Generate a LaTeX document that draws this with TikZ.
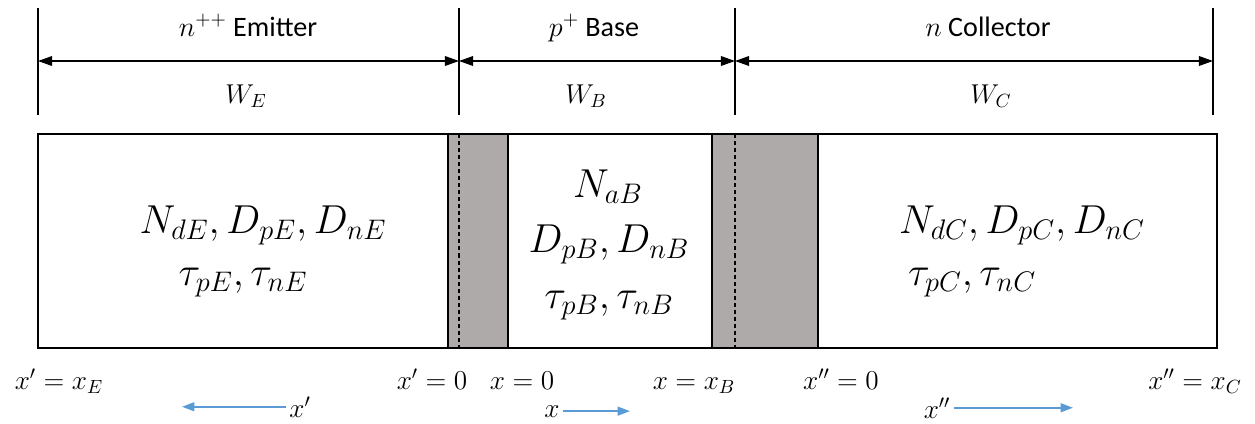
\documentclass[tikz,border=0pt]{standalone}
\usepackage{fix-cm}
\usepackage{fontspec}
\setmainfont{Carlito}
\usetikzlibrary{arrows.meta}
\definecolor{deplgray}{RGB}{174,170,170}
\definecolor{axisblue}{RGB}{91,155,213}

\begin{document}
\begin{tikzpicture}[x=0.02cm,y=-0.02cm,
  border/.style={line width=0.8pt},
  dimline/.style={line width=0.8pt, {Triangle[length=8pt,width=5.5pt]}-{Triangle[length=8pt,width=5.5pt]}},
  regionlabel/.style={font=\fontsize{16}{19}\selectfont, inner sep=0pt, anchor=base},
  widthlabel/.style={font=\fontsize{15.5}{19}\selectfont, inner sep=0pt, anchor=base},
  param/.style={font=\fontsize{23}{28}\selectfont, inner sep=0pt, anchor=base},
  poslabel/.style={font=\fontsize{15.5}{19}\selectfont, inner sep=0pt, anchor=base},
  axislabel/.style={font=\fontsize{15.5}{19}\selectfont, inner sep=2pt, anchor=base},
  axisarrow/.style={draw=axisblue, line width=1pt, -{Triangle[length=7pt,width=5pt]}},
  junction/.style={border, fill=deplgray},
  metallurgical/.style={line width=0.6pt, dash pattern=on 2.3pt off 1.7pt}]
\useasboundingbox (0,0) rectangle (1255,423);

% widths of the three regions
\foreach \xx in {38,459,735,1213}
  \draw[border] (\xx,8) -- (\xx,115);
\coordinate (eLeft) at (38,61);
\coordinate (eBase) at (459,61);
\coordinate (bColl) at (735,61);
\coordinate (cRight) at (1213,61);
\draw[dimline] (eLeft) -- (eBase);
\draw[dimline] (eBase) -- (bColl);
\draw[dimline] (bColl) -- (cRight);

\node[regionlabel] (emitter) at (248,36) {$n^{++}$ Emitter};
\node[regionlabel] (base) at (594,36) {$p^{+}$ Base};
\node[regionlabel] (collector) at (988,36) {$n$ Collector};
\node[widthlabel] (wE) at (246,103) {$W_E$};
\node[widthlabel] (wB) at (586,103) {$W_B$};
\node[widthlabel] (wC) at (991,103) {$W_C$};

% device with the two depletion regions
\draw[junction] (448,134) rectangle (508,348);
\draw[junction] (712,134) rectangle (818,348);
\draw[metallurgical] (459,134) -- (459,348);
\draw[metallurgical] (735,134) -- (735,348);
\draw[border] (38,134) rectangle (1217,348);

\node[param] (emA) at (263,233) {$N_{dE}, D_{pE}, D_{nE}$};
\node[param] (emB) at (243,285) {$\tau_{pE}, \tau_{nE}$};
\node[param] (baA) at (608,197) {$N_{aB}$};
\node[param] (baB) at (609,252) {$D_{pB}, D_{nB}$};
\node[param] (baC) at (609,308) {$\tau_{pB}, \tau_{nB}$};
\node[param] (coA) at (1022,233) {$N_{dC}, D_{pC}, D_{nC}$};
\node[param] (coB) at (972,285) {$\tau_{pC}, \tau_{nC}$};

% positions along the device
\node[poslabel] (xE) at (59,389) {$x' = x_E$};
\node[poslabel] (xpZero) at (432,389) {$x' = 0$};
\node[poslabel] (xZero) at (522,389) {$x = 0$};
\node[poslabel] (xB) at (694,389) {$x = x_B$};
\node[poslabel] (xppZero) at (841,389) {$x'' = 0$};
\node[poslabel] (xC) at (1195,389) {$x'' = x_C$};

% directions of the three axes
\node[axislabel] (axE) at (300,417) {$x'$};
\node[axislabel] (axB) at (552,417) {$x$};
\node[axislabel] (axC) at (937,418) {$x''$};
\coordinate (tipE) at (182,0);
\coordinate (tipB) at (630,0);
\coordinate (tipC) at (1073,0);
\draw[axisarrow] (axE.west) -- (axE.west -| tipE);
\draw[axisarrow] (axB.east) -- (axB.east -| tipB);
\draw[axisarrow] (axC.east) -- (axC.east -| tipC);
\end{tikzpicture}
\end{document}
